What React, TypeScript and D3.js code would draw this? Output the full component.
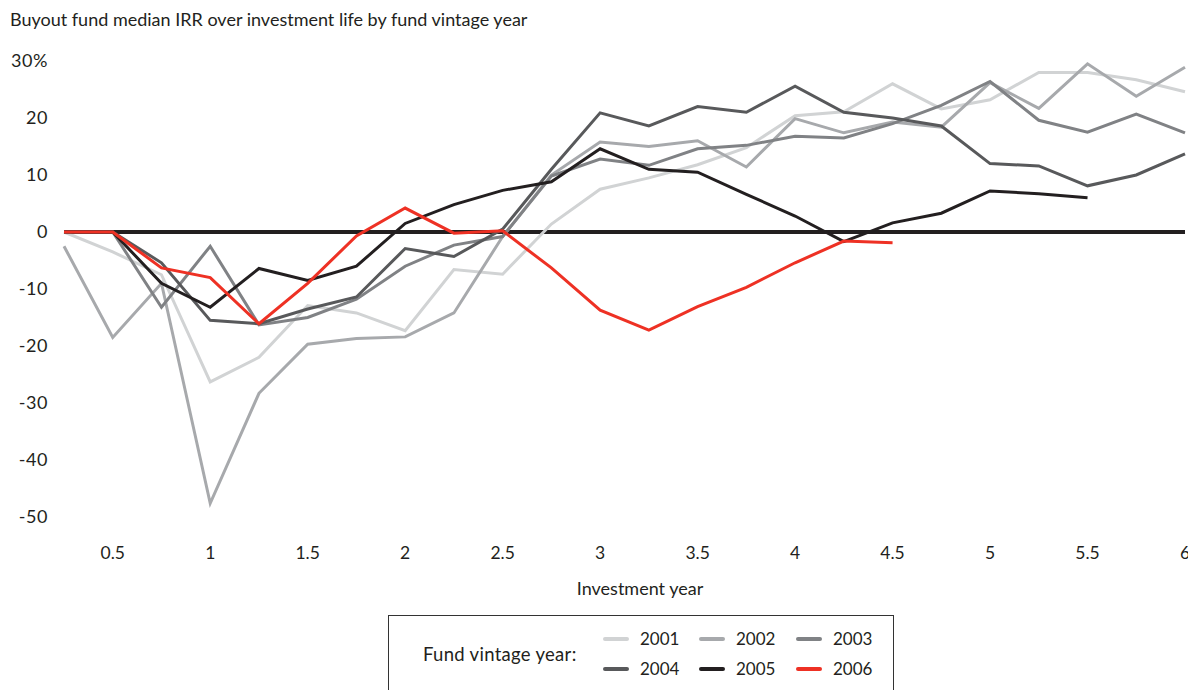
import React from "react";
import * as d3 from "d3";

const years = [0.25, 0.5, 0.75, 1, 1.25, 1.5, 1.75, 2, 2.25, 2.5, 2.75, 3, 3.25, 3.5, 3.75, 4, 4.25, 4.5, 4.75, 5, 5.25, 5.5, 5.75, 6];
const xTicks = [0.5, 1, 1.5, 2, 2.5, 3, 3.5, 4, 4.5, 5, 5.5, 6];
const yTicks = [30, 20, 10, 0, -10, -20, -30, -40, -50];

const v2001 = [0, -3.5, -7.5, -26.3, -22, -12.9, -14.2, -17.3, -6.6, -7.4, 1.4, 7.5, 9.5, 11.8, 14.8, 20.4, 21.1, 26, 21.6, 23.2, 28, 28, 26.7, 24.6];
const v2002 = [-2.5, -18.5, -9, -47.6, -28.3, -19.7, -18.7, -18.4, -14.2, -0.8, 10, 15.8, 15, 16, 11.4, 19.9, 17.4, 19.3, 18.4, 26.2, 21.7, 29.5, 23.8, 28.9];
const v2003 = [0, 0, -13.2, -2.5, -16.3, -15, -11.8, -6, -2.3, -0.8, 9.8, 12.8, 11.7, 14.6, 15.2, 16.8, 16.5, 19, 22.2, 26.4, 19.6, 17.5, 20.7, 17.4];
const v2004 = [0, 0, -5.4, -15.5, -16.1, -13.5, -11.4, -2.9, -4.3, 0.5, 11, 20.9, 18.6, 22, 21, 25.6, 21, 20, 18.6, 12, 11.6, 8.1, 10, 13.7];
const v2005 = [0, 0, -9, -13.2, -6.4, -8.5, -6, 1.5, 4.8, 7.3, 8.8, 14.6, 11, 10.5, 6.6, 2.8, -1.7, 1.6, 3.3, 7.2, 6.7, 6.0];
const v2006 = [0, 0, -6.3, -8, -16.1, -9, -0.7, 4.2, -0.2, 0.2, -6.3, -13.7, -17.2, -13.1, -9.7, -5.4, -1.6, -1.9];

const seriesNames = ["2001", "2002", "2003", "2004", "2005", "2006"];
const seriesValues = [v2001, v2002, v2003, v2004, v2005, v2006];
const seriesColors = ["#d1d3d4", "#a7a9ac", "#808285", "#58595b", "#231f20", "#ee3124"];

const FONT = "Lato, 'Noto Sans', sans-serif";
const TEXT = "#231f20";

export default function App() {
  const x = d3.scaleLinear().domain([0.25, 6]).range([64, 1185]);
  const y = d3.scaleLinear().domain([-50, 30]).range([517, 61]);
  const line = d3
    .line<number>()
    .x((_, i) => x(years[i]))
    .y((d) => y(d));

  const legendCols = [605, 701, 798];
  const legendRows = [639, 669];

  return (
    <svg
      width={1188}
      height={690}
      style={{ position: "absolute", left: 0, top: 0, background: "#fff" }}
      fontFamily={FONT}
    >
      <text x={10} y={26} fontSize={18} fill={TEXT}>
        Buyout fund median IRR over investment life by fund vintage year
      </text>
      {yTicks.map((t) => (
        <text key={t} x={48} y={y(t)} dy="0.35em" textAnchor="end" fontSize={18} fill={TEXT} letterSpacing={0.6}>
          {t === 30 ? "30%" : String(t)}
        </text>
      ))}
      {xTicks.map((t) => (
        <text key={t} x={x(t)} y={553} dy="0.35em" textAnchor="middle" fontSize={17.5} fill={TEXT}>
          {String(t)}
        </text>
      ))}
      <text x={640} y={589} dy="0.35em" textAnchor="middle" fontSize={18} fill={TEXT}>
        Investment year
      </text>
      <line x1={x(0.25)} x2={x(6)} y1={y(0)} y2={y(0)} stroke="#231f20" strokeWidth={4} />
      {seriesValues.map((vals, i) => (
        <path
          key={seriesNames[i]}
          d={line(vals) || ""}
          fill="none"
          stroke={seriesColors[i]}
          strokeWidth={3}
          strokeLinejoin="miter"
        />
      ))}
      <rect x={388.5} y={615.5} width={505} height={100} fill="none" stroke="#333" strokeWidth={1} />
      <text x={423} y={655} dy="0.35em" fontSize={18.5} fill={TEXT} letterSpacing={0.3}>
        Fund vintage year:
      </text>
      {seriesNames.map((n, i) => {
        const cx = legendCols[i % 3];
        const cy = legendRows[Math.floor(i / 3)];
        return (
          <g key={n}>
            <line x1={cx} x2={cx + 22} y1={cy} y2={cy} stroke={seriesColors[i]} strokeWidth={4} strokeLinecap="round" />
            <text x={cx + 35} y={cy} dy="0.35em" fontSize={17} fill={TEXT}>
              {n}
            </text>
          </g>
        );
      })}
    </svg>
  );
}
